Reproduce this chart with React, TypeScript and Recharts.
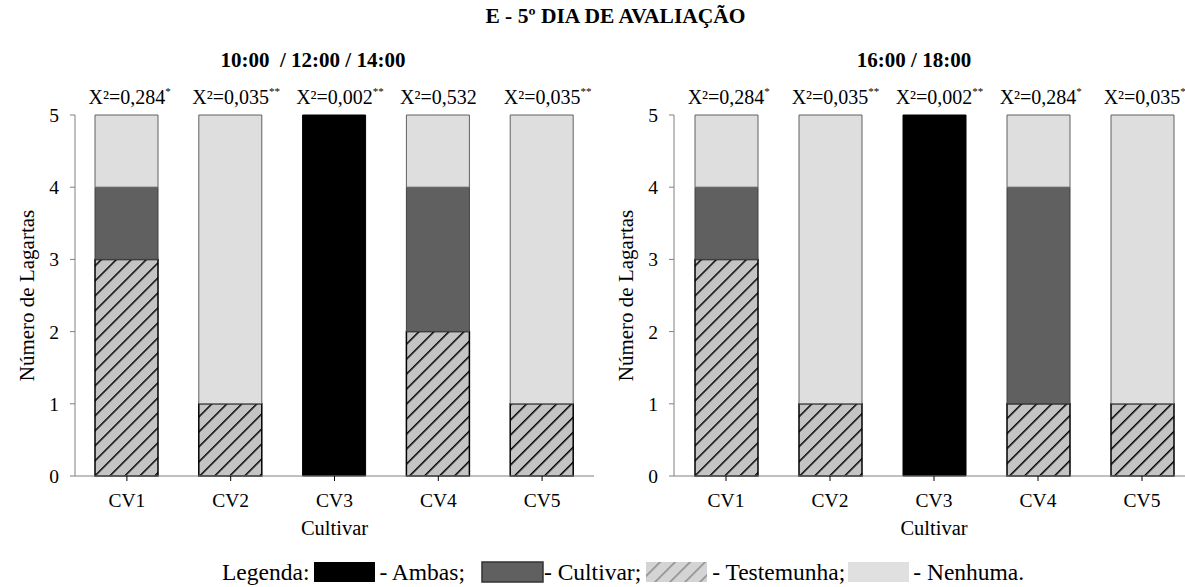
import React from "react";
import { BarChart, Bar, XAxis, YAxis } from "recharts";

const CULTIVARS = ["CV1", "CV2", "CV3", "CV4", "CV5"];
const Y_TICKS = [0, 1, 2, 3, 4, 5];

// 10:00 / 12:00 / 14:00
const AM_TESTEMUNHA = [3, 1, 0, 2, 1];
const AM_AMBAS = [0, 0, 5, 0, 0];
const AM_CULTIVAR = [1, 0, 0, 2, 0];
const AM_NENHUMA = [1, 4, 0, 1, 4];
const AM_CHI = ["0,284", "0,035", "0,002", "0,532", "0,035"];
const AM_SIG = ["*", "**", "**", "", "**"];

// 16:00 / 18:00
const PM_TESTEMUNHA = [3, 1, 0, 1, 1];
const PM_AMBAS = [0, 0, 5, 0, 0];
const PM_CULTIVAR = [1, 0, 0, 3, 0];
const PM_NENHUMA = [1, 4, 0, 1, 4];
const PM_CHI = ["0,284", "0,035", "0,002", "0,284", "0,035"];
const PM_SIG = ["*", "**", "**", "*", "**"];

const FONT = "'Liberation Serif', 'Times New Roman', serif";
const AXIS_GRAY = "#808080";

const SERIES = [
  { key: "testemunha", name: "Testemunha", fill: "url(#hatch)", stroke: "#000", strokeWidth: 1.5 },
  { key: "ambas", name: "Ambas", fill: "#000", stroke: "#000", strokeWidth: 1 },
  { key: "cultivar", name: "Cultivar", fill: "#606060", stroke: "#404040", strokeWidth: 1 },
  { key: "nenhuma", name: "Nenhuma", fill: "#dedede", stroke: "#606060", strokeWidth: 1 },
];

function ChiTick(props: any) {
  const { x, y, index, chi, sig } = props;
  const s = sig[index];
  const label = `X²=${chi[index]}`;
  if (!s) {
    return (
      <text x={x} y={y - 3} textAnchor="middle" fontSize={20} fill="#000">
        {label}
      </text>
    );
  }
  // an invisible copy of the stars on the left keeps "X²=..." centred over the bar
  return (
    <text x={x} y={y - 3} textAnchor="middle" fontSize={20} fill="#000">
      <tspan fontSize={11} dy={-9} fill="none">{s}</tspan>
      <tspan dy={9}>{label}</tspan>
      <tspan fontSize={11} dy={-9}>{s}</tspan>
    </text>
  );
}

type PanelProps = {
  left: number;
  marginLeft: number;
  testemunha: number[];
  ambas: number[];
  cultivar: number[];
  nenhuma: number[];
  chi: string[];
  sig: string[];
};

function Panel({ left, marginLeft, testemunha, ambas, cultivar, nenhuma, chi, sig }: PanelProps) {
  const data = CULTIVARS.map((name, i) => ({
    name,
    testemunha: testemunha[i],
    ambas: ambas[i],
    cultivar: cultivar[i],
    nenhuma: nenhuma[i],
  }));
  const tickStyle = { fill: "#000", fontSize: 19.5 };
  return (
    <div style={{ position: "absolute", left, top: 0 }}>
      <BarChart
        width={600}
        height={587}
        data={data}
        margin={{ top: 85, right: 6, bottom: 41, left: marginLeft }}
      >
        <XAxis
          dataKey="name"
          height={70}
          tick={tickStyle}
          tickSize={5}
          tickMargin={12}
          axisLine={{ stroke: AXIS_GRAY }}
          tickLine={{ stroke: "#000" }}
          label={{
            value: "Cultivar",
            position: "insideBottom",
            offset: 11,
            style: { fill: "#000", fontSize: 20.5 },
          }}
        />
        <XAxis
          xAxisId="chi"
          orientation="top"
          dataKey="name"
          height={30}
          axisLine={false}
          tickLine={false}
          tick={(p: any) => <ChiTick {...p} chi={chi} sig={sig} />}
        />
        <YAxis
          width={64}
          domain={[0, 5]}
          ticks={Y_TICKS}
          tick={tickStyle}
          tickSize={5}
          tickMargin={11}
          axisLine={{ stroke: AXIS_GRAY }}
          tickLine={{ stroke: AXIS_GRAY }}
          label={{
            value: "Número de Lagartas",
            angle: -90,
            position: "insideLeft",
            offset: 16,
            style: { fill: "#000", fontSize: 21, textAnchor: "middle" },
          }}
        />
        {SERIES.map((s) => (
          <Bar
            key={s.key}
            dataKey={s.key}
            stackId="a"
            barSize={63}
            fill={s.fill}
            stroke={s.stroke}
            strokeWidth={s.strokeWidth}
            isAnimationActive={false}
          />
        ))}
      </BarChart>
    </div>
  );
}

function Swatch({ fill, stroke }: { fill: string; stroke?: string }) {
  return (
    <svg width={63} height={22} style={{ display: "block" }}>
      <rect
        x={1}
        y={1}
        width={61}
        height={20}
        fill={fill}
        stroke={stroke || "none"}
        strokeWidth={1.5}
      />
    </svg>
  );
}

export default function App() {
  const heading = { fontWeight: "bold" as const, color: "#000" };
  return (
    <div
      style={{
        position: "absolute",
        left: 0,
        top: 0,
        width: 1185,
        height: 587,
        overflow: "hidden",
        background: "#fff",
        fontFamily: FONT,
      }}
    >
      <style>{`svg text, svg tspan { font-family: ${FONT}; }`}</style>
      <svg width={0} height={0} style={{ position: "absolute" }}>
        <defs>
          <pattern
            id="hatch"
            patternUnits="userSpaceOnUse"
            width={10.6}
            height={10.6}
            patternTransform="rotate(45)"
          >
            <rect width={10.6} height={10.6} fill="#c4c4c4" />
            <line x1={0} y1={0} x2={0} y2={10.6} stroke="#000" strokeWidth={3} />
          </pattern>
          <pattern
            id="hatchLegend"
            patternUnits="userSpaceOnUse"
            width={10.6}
            height={10.6}
            patternTransform="rotate(45)"
          >
            <rect width={10.6} height={10.6} fill="#d4d4d4" />
            <line x1={0} y1={0} x2={0} y2={10.6} stroke="#8a8a8a" strokeWidth={3} />
          </pattern>
        </defs>
      </svg>

      <Panel
        left={0}
        marginLeft={11}
        testemunha={AM_TESTEMUNHA}
        ambas={AM_AMBAS}
        cultivar={AM_CULTIVAR}
        nenhuma={AM_NENHUMA}
        chi={AM_CHI}
        sig={AM_SIG}
      />
      <Panel
        left={600}
        marginLeft={10}
        testemunha={PM_TESTEMUNHA}
        ambas={PM_AMBAS}
        cultivar={PM_CULTIVAR}
        nenhuma={PM_NENHUMA}
        chi={PM_CHI}
        sig={PM_SIG}
      />

      <div style={{ ...heading, fontSize: 21.5, position: "absolute", left: 0, width: 1231, top: 4, textAlign: "center" }}>
        E - 5º DIA DE AVALIAÇÃO
      </div>
      <div style={{ ...heading, fontSize: 21, position: "absolute", left: 113, width: 400, top: 48, textAlign: "center", whiteSpace: "pre" }}>
        {"10:00  / 12:00 / 14:00"}
      </div>
      <div style={{ ...heading, fontSize: 21, position: "absolute", left: 714, width: 400, top: 48, textAlign: "center" }}>
        16:00 / 18:00
      </div>

      <div
        style={{
          position: "absolute",
          left: 222,
          top: 559,
          height: 26,
          display: "flex",
          alignItems: "center",
          fontSize: 23.5,
          color: "#000",
          whiteSpace: "pre",
        }}
      >
        <span style={{ marginRight: 4 }}>Legenda:</span>
        <Swatch fill="#000" />
        <span style={{ marginLeft: 3, marginRight: 16 }}>- Ambas;</span>
        <Swatch fill="#606060" stroke="#333" />
        <span style={{ marginRight: 4 }}>- Cultivar;</span>
        <Swatch fill="url(#hatchLegend)" />
        <span style={{ marginLeft: 4, marginRight: 2 }}>- Testemunha;</span>
        <Swatch fill="#e0e0e0" />
        <span style={{ marginLeft: 3 }}>- Nenhuma.</span>
      </div>
    </div>
  );
}
